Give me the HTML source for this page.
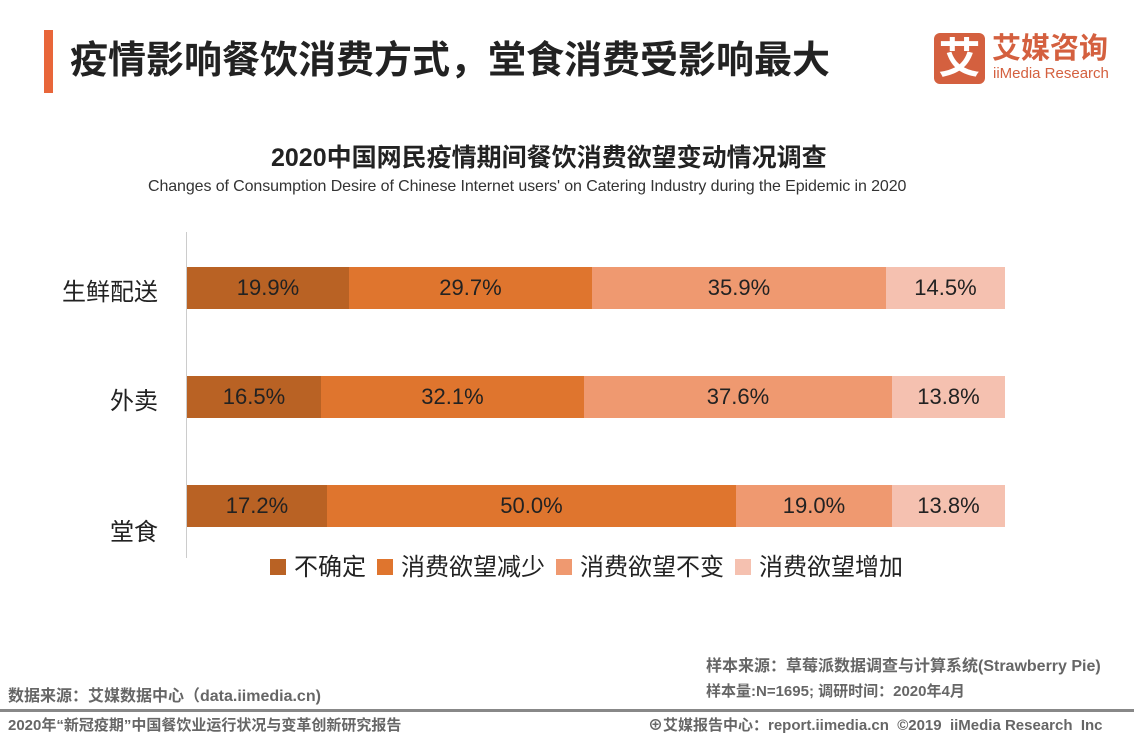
<!DOCTYPE html>
<html><head><meta charset="utf-8"><style>
body{margin:0;width:1134px;height:737px;background:#fff;font-family:"Liberation Sans","Noto Sans CJK SC",sans-serif;position:relative;overflow:hidden}
.a{position:absolute;white-space:nowrap}
.seg{position:absolute;height:42px;line-height:42px;text-align:center;font-size:22px;color:#222}
.c1{background:#B96224}.c2{background:#DF752E}.c3{background:#EF9970}.c4{background:#F5C1B0}
.lg{position:absolute;top:555px;font-size:24px;color:#222;line-height:26px}
.lg i{display:inline-block;width:16px;height:16px;margin-right:8px;vertical-align:0px}
.ft{font-size:15px;font-weight:bold;color:#666}
</style></head><body>
<div class="a" style="left:44px;top:30px;width:9px;height:63px;background:#E8663A"></div>
<div class="a" style="left:70px;top:38px;font-size:38px;line-height:46px;font-weight:bold;color:#222">疫情影响餐饮消费方式，堂食消费受影响最大</div>
<div class="a" style="left:934px;top:33px;width:51px;height:51px;background:#D4603F;border-radius:6px;color:#fff;font-size:42px;line-height:51px;text-align:center;font-weight:bold">艾</div>
<div class="a" style="left:992px;top:33px;font-size:29px;line-height:32px;font-weight:bold;color:#D4603F">艾媒咨询</div>
<div class="a" style="left:993px;top:66px;font-size:15px;line-height:16px;color:#D4603F">iiMedia Research</div>
<div class="a" style="left:271px;top:138px;font-size:25px;font-weight:bold;color:#222">2020中国网民疫情期间餐饮消费欲望变动情况调查</div>
<div class="a" style="left:148px;top:178px;font-size:16px;color:#333;letter-spacing:-0.1px">Changes of Consumption Desire of Chinese Internet users' on Catering Industry during the Epidemic in 2020</div>
<div class="a" style="left:186px;top:232px;width:1px;height:326px;background:#ccc"></div>
<div class="a" style="left:62px;top:272px;font-size:24px;color:#222">生鲜配送</div>
<div class="a" style="left:110px;top:381px;font-size:24px;color:#222">外卖</div>
<div class="a" style="left:110px;top:512px;font-size:24px;color:#222">堂食</div>
<div class="seg c1" style="left:187px;top:267px;width:162px">19.9%</div>
<div class="seg c2" style="left:349px;top:267px;width:243px">29.7%</div>
<div class="seg c3" style="left:592px;top:267px;width:294px">35.9%</div>
<div class="seg c4" style="left:886px;top:267px;width:119px">14.5%</div>
<div class="seg c1" style="left:187px;top:376px;width:134px">16.5%</div>
<div class="seg c2" style="left:321px;top:376px;width:263px">32.1%</div>
<div class="seg c3" style="left:584px;top:376px;width:308px">37.6%</div>
<div class="seg c4" style="left:892px;top:376px;width:113px">13.8%</div>
<div class="seg c1" style="left:187px;top:485px;width:140px">17.2%</div>
<div class="seg c2" style="left:327px;top:485px;width:409px">50.0%</div>
<div class="seg c3" style="left:736px;top:485px;width:156px">19.0%</div>
<div class="seg c4" style="left:892px;top:485px;width:113px">13.8%</div>
<div class="lg" style="left:270px"><i class="c1"></i>不确定</div>
<div class="lg" style="left:377px"><i class="c2"></i>消费欲望减少</div>
<div class="lg" style="left:556px"><i class="c3"></i>消费欲望不变</div>
<div class="lg" style="left:735px"><i class="c4"></i>消费欲望增加</div>
<div class="a ft" style="left:706px;top:652px;font-size:16px">样本来源：草莓派数据调查与计算系统(Strawberry Pie)</div>
<div class="a ft" style="left:706px;top:680px">样本量:N=1695; 调研时间：2020年4月</div>
<div class="a ft" style="left:8px;top:682px;font-size:16px">数据来源：艾媒数据中心（data.iimedia.cn)</div>
<div class="a" style="left:0;top:709px;width:1134px;height:3px;background:#888"></div>
<div class="a ft" style="left:8px;top:714px;font-size:15px">2020年“新冠疫期”中国餐饮业运行状况与变革创新研究报告</div>
<div class="a ft" style="left:648px;top:714px;font-size:15px">⊕艾媒报告中心：report.iimedia.cn &nbsp;©2019 &nbsp;iiMedia Research &nbsp;Inc</div>
</body></html>
